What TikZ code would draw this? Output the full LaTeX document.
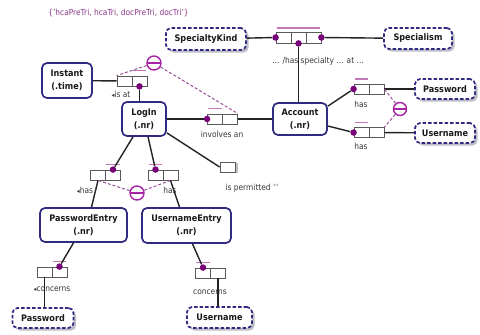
\documentclass[tikz,border=0pt]{standalone}
\usepackage{fontspec}
\setmainfont{DejaVu Sans}[FakeStretch=0.9]
\usetikzlibrary{shadows,calc}

\definecolor{navy}{RGB}{48,42,128}
\definecolor{shade}{RGB}{190,190,200}
\definecolor{dotc}{RGB}{120,0,120}
\definecolor{barc}{RGB}{195,120,185}
\definecolor{circc}{RGB}{165,35,165}
\definecolor{consc}{RGB}{155,80,155}
\definecolor{linec}{RGB}{35,35,35}
\definecolor{lblc}{RGB}{55,55,55}
\definecolor{cellc}{RGB}{90,90,90}
\definecolor{topc}{RGB}{135,55,135}

% small reading-direction triangle
\newcommand\readdir{{\fontsize{6.5}{6}\selectfont ◂}}

\begin{document}
\begin{tikzpicture}[x=1pt,y=-1pt,
  entity/.style={draw=navy, line width=1.7pt, rounded corners=5pt, fill=white,
    align=center, inner sep=0pt, text=black!90,
    font=\fontsize{9}{13}\selectfont\bfseries},
  valuebox/.style={entity, dashed, dash pattern=on 3.5pt off 2pt,
    general shadow={fill=shade, shadow xshift=2.5pt, shadow yshift=-2.5pt}},
  cell/.style={draw=cellc, line width=0.8pt, fill=white, inner sep=0pt,
    minimum width=15pt, minimum height=10pt},
  dot/.style={circle, fill=dotc, inner sep=0pt, minimum size=6.5pt},
  conn/.style={draw=linec, line width=1.4pt},
  ubar/.style={draw=barc, line width=1.4pt},
  cons/.style={draw=consc, line width=1pt, dash pattern=on 3pt off 2pt},
  excl/.style={circle, draw=circc, line width=1.4pt, fill=white, inner sep=0pt,
    minimum size=14pt,
    path picture={\draw[circc, line width=1.4pt]
      (path picture bounding box.west) -- (path picture bounding box.east);}},
  lbl/.style={font=\fontsize{8.3}{9}\selectfont, text=lblc, inner sep=0pt}
]
\fill[white] (0,0) rectangle (480,335);
\useasboundingbox (0,0) rectangle (480,335);

% heading
\node[lbl, text=topc, font=\fontsize{8.3}{9}\selectfont] (head) at (118.5,13)
  {\{'hcaPreTri, hcaTri, docPreTri, docTri'\}};

% entity types
\node[entity, minimum width=50pt, minimum height=35pt] (instant) at (67,80.5) {Instant\\(.time)};
\node[entity, minimum width=44pt, minimum height=34pt] (login) at (144,119) {LogIn\\(.nr)};
\node[entity, minimum width=54pt, minimum height=32pt] (account) at (300,119) {Account\\(.nr)};
\node[entity, minimum width=87pt, minimum height=34pt] (pentry) at (83.5,225) {PasswordEntry\\(.nr)};
\node[entity, minimum width=89pt, minimum height=35pt] (uentry) at (186.5,225.5) {UsernameEntry\\(.nr)};

% value types
\node[valuebox, minimum width=80pt, minimum height=22pt] (spkind) at (206,39) {SpecialtyKind};
\node[valuebox, minimum width=68pt, minimum height=21pt] (spism) at (418,38.5) {Specialism};
\node[valuebox, minimum width=60pt, minimum height=20pt] (pwa) at (445,89) {Password};
\node[valuebox, minimum width=60pt, minimum height=20pt] (una) at (445,133) {Username};
\node[valuebox, minimum width=61pt, minimum height=20pt] (pwb) at (43,318) {Password};
\node[valuebox, minimum width=65pt, minimum height=21pt] (unb) at (219.5,317.5) {Username};

% fact type: ... has specialty ... at ...
\node[cell, minimum height=11pt] (sp1) at (283.5,37.5) {};
\node[cell, minimum height=11pt] (sp2) at (298.5,37.5) {};
\node[cell, minimum height=11pt] (sp3) at (313.5,37.5) {};
\node[dot] (spd1) at (sp1.west) {};
\node[dot] (spd2) at (sp2.south) {};
\node[dot] (spd3) at (sp3.east) {};
\draw[ubar] ($(sp1.north west)+(1,-3.5)$) -- ($(sp3.north east)+(-1,-3.5)$);
\node[lbl] (splbl) at (318,61) {... /has specialty ... at ...};

% fact type: LogIn is at Instant
\node[cell] (ia1) at (124.5,81) {};
\node[cell] (ia2) at (139.5,81) {};
\node[dot] (iad) at (ia2.south) {};
\draw[ubar] ($(ia2.north west)+(1,-5)$) -- ($(ia2.north east)+(-1,-5)$);
\node[lbl] (ialbl) at (121,94) {\readdir is at};

% fact type: LogIn involves an Account
\node[cell] (iv1) at (215,119) {};
\node[cell] (iv2) at (230,119) {};
\node[dot] (ivd) at (iv1.west) {};
\draw[ubar] ($(iv1.north west)+(1,-5)$) -- ($(iv1.north east)+(-1,-5)$);
\node[lbl] (ivlbl) at (222,134) {involves an};

% fact types: Account has Password / Username
\node[cell] (ap1) at (361.5,89) {};
\node[cell] (ap2) at (376.5,89) {};
\node[dot] (apd) at (ap1.west) {};
\draw[ubar] ($(ap1.north west)+(1,-4.5)$) -- ($(ap1.north east)+(-1,-4.5)$);
\node[lbl] (aplbl) at (361,104) {has};

\node[cell] (au1) at (361.5,132.5) {};
\node[cell] (au2) at (376.5,132.5) {};
\node[dot] (aud) at (au1.west) {};
\draw[ubar] ($(au1.north west)+(1,-4.5)$) -- ($(au1.north east)+(-1,-4.5)$);
\node[lbl] (aulbl) at (361,146) {has};

% unary fact type: LogIn is permitted
\node[cell, general shadow={fill=shade, shadow xshift=3pt, shadow yshift=-1pt}] (perm) at (227.5,167) {};
\node[lbl] (permlbl) at (252,188) {is permitted \raisebox{2.5pt}{\fontsize{6}{6}\selectfont\color{gray}**}};

% fact types: LogIn has PasswordEntry / UsernameEntry
\node[cell] (lp1) at (98,175) {};
\node[cell] (lp2) at (113,175) {};
\node[dot] (lpd) at (lp2.north) {};
\draw[ubar] ($(lp2.north west)+(1,-5)$) -- ($(lp2.north east)+(-1,-5)$);
\node[lbl] (lplbl) at (85,190) {\readdir has};

\node[cell] (lu1) at (155.5,175) {};
\node[cell] (lu2) at (170.5,175) {};
\node[dot] (lud) at (lu1.north) {};
\draw[ubar] ($(lu1.north west)+(1,-5)$) -- ($(lu1.north east)+(-1,-5)$);
\node[lbl] (lulbl) at (170,190) {has};

% fact types: ...Entry concerns Password / Username
\node[cell] (pc1) at (44.5,272) {};
\node[cell] (pc2) at (59.5,272) {};
\node[dot] (pcd) at (pc2.north) {};
\draw[ubar] ($(pc2.north west)+(1,-5)$) -- ($(pc2.north east)+(-1,-5)$);
\node[lbl] (pclbl) at (52,289) {\readdir concerns};

\node[cell] (uc1) at (203,273) {};
\node[cell] (uc2) at (218,273) {};
\node[dot] (ucd) at (uc1.north) {};
\draw[ubar] ($(uc1.north west)+(1,-5)$) -- ($(uc1.north east)+(-1,-5)$);
\node[lbl] (uclbl) at (210,292) {concerns};

% role connectors
\draw[conn] (spkind) -- (spd1);
\draw[conn] (spd3) -- (spism);
\draw[conn] (spd2) -- (spd2 |- account.north);
\draw[conn] (instant) -- (ia1);
\draw[conn] (iad) -- (iad |- login.north);
\draw[conn] (login) -- (ivd);
\draw[conn] (iv2) -- (account);
\draw[conn] ([yshift=-4pt]account.north east) -- (apd);
\draw[conn] ([yshift=-7pt]account.east) -- (aud);
\draw[conn] (ap2) -- (pwa);
\draw[conn] (au2) -- (una);
\draw[conn] ([yshift=4pt]login.south east) -- (perm.west);
\draw[conn] ([xshift=-11pt]login.south) -- (lpd);
\draw[conn] ([xshift=4pt]login.south) -- (lud);
\draw[conn] (lp1.south) -- ([xshift=8pt]pentry.north);
\draw[conn] (lu2.south) -- ([xshift=-7pt]uentry.north);
\draw[conn] ([xshift=-10pt]pentry.south) -- (pcd);
\draw[conn] (pc1.south) -- (pc1.south |- pwb.north);
\draw[conn] ([xshift=6pt]uentry.south) -- (ucd);
\draw[conn] (uc2.south) -- (uc2.south |- unb.north);

% exclusion constraints
\node[excl] (xa) at (154,63) {};
\node[excl, minimum size=13pt] (xb) at (400,109) {};
\node[excl] (xc) at (137,193) {};
\draw[cons] (xa) -- (ia1.north west);
\draw[cons] (xa) -- (iv2.north east);
\draw[cons] (xb) -- (ap2.east);
\draw[cons] (xb) -- (au2.north east);
\draw[cons] (xc) -- (lp1.south);
\draw[cons] (xc) -- (lu2.south);
\end{tikzpicture}
\end{document}
